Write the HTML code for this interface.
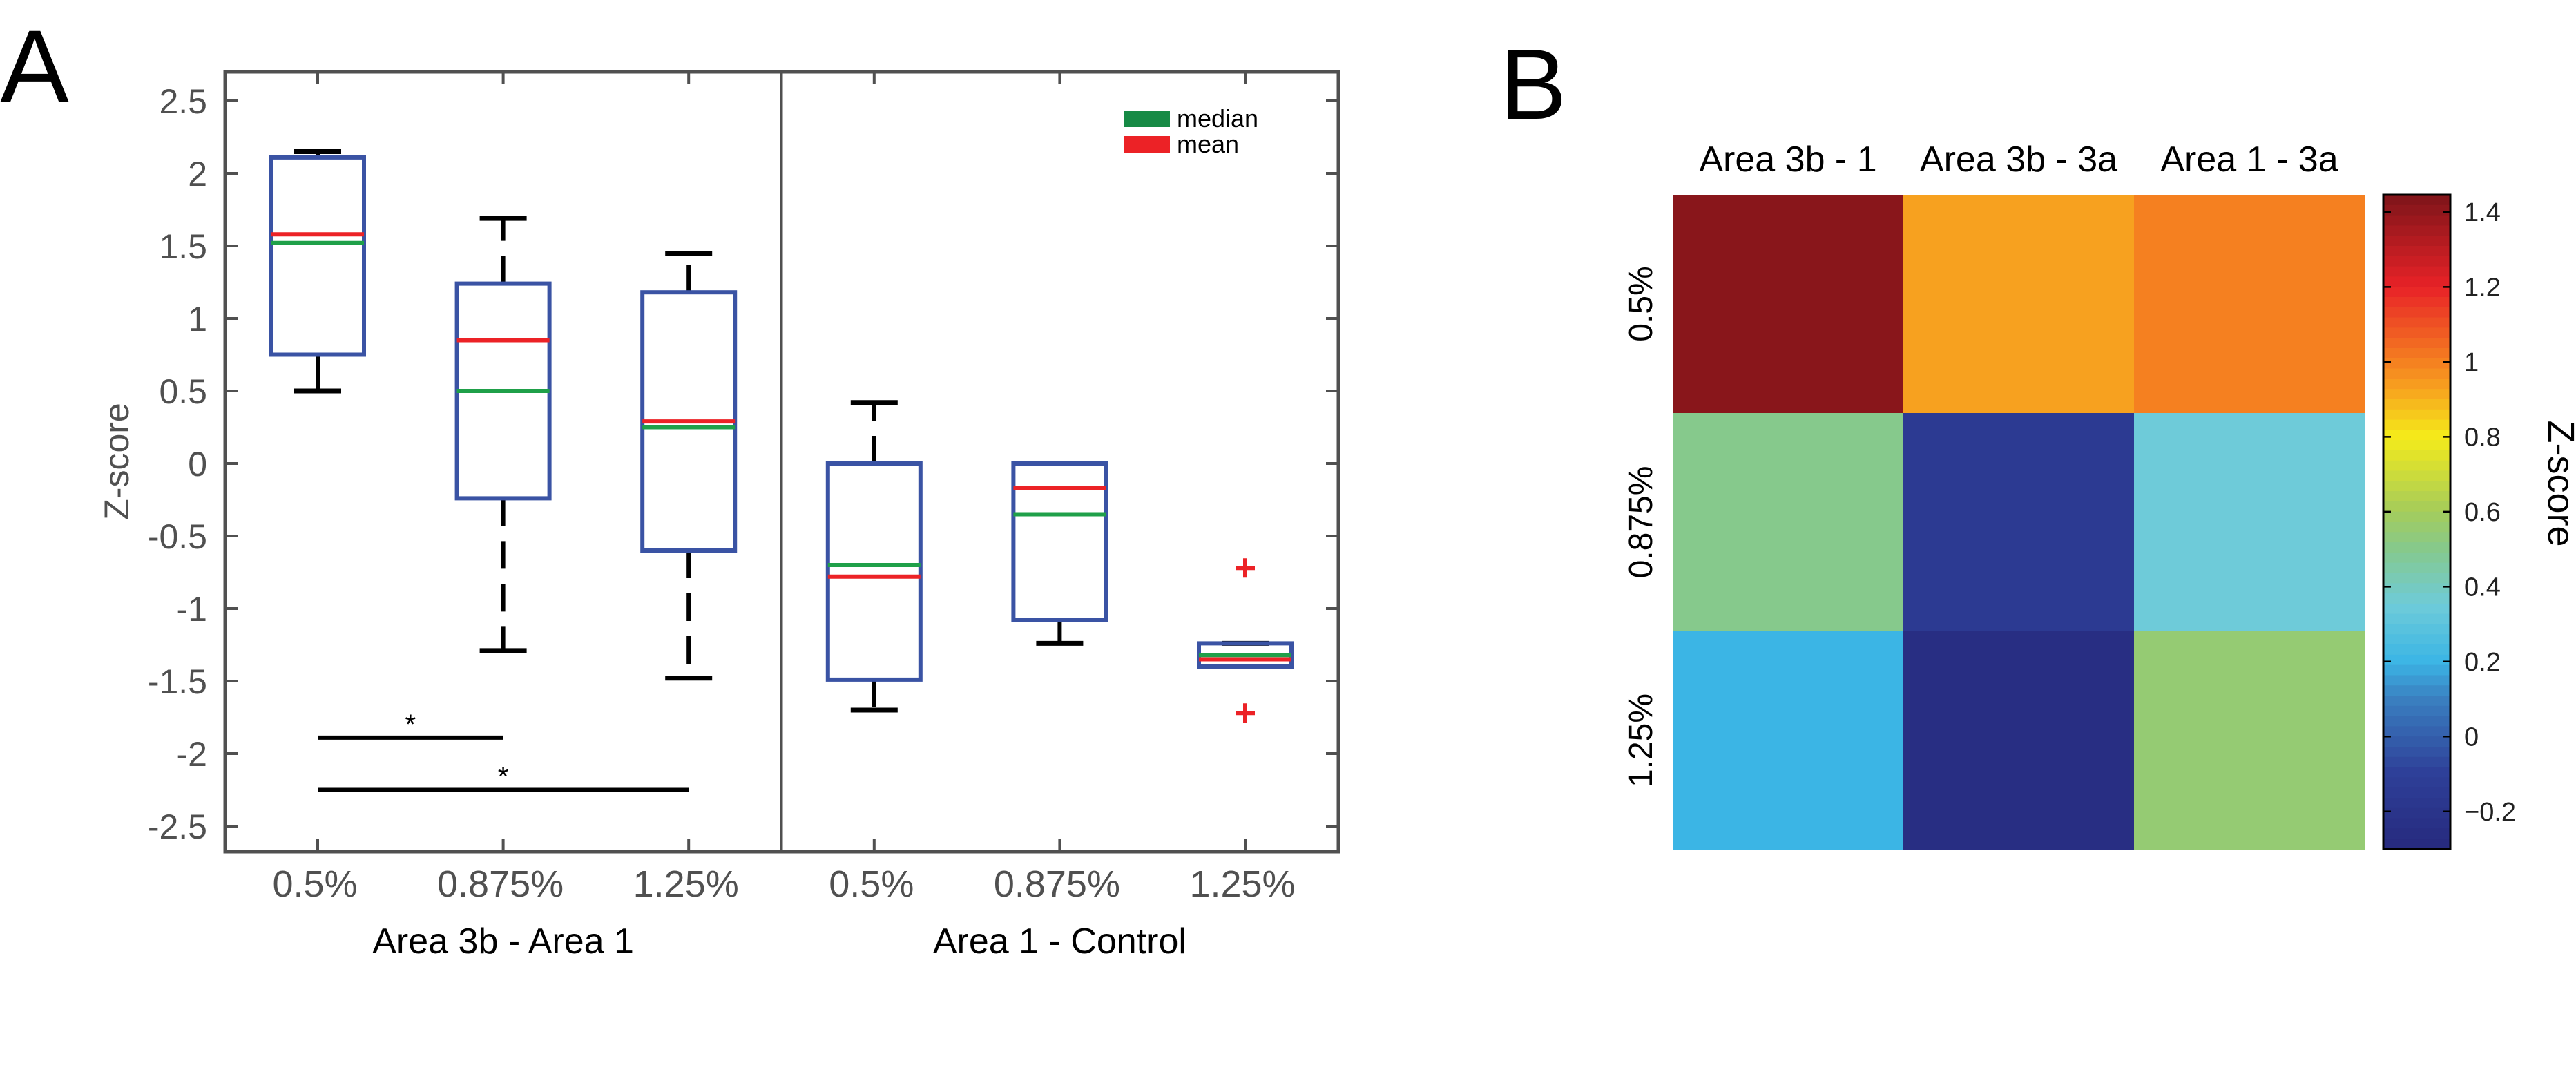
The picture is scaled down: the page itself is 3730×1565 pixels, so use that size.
<!DOCTYPE html>
<html><head><meta charset="utf-8"><style>
html,body{margin:0;padding:0;background:#fff;}
svg{display:block;font-family:"Liberation Sans Narrow","Liberation Sans",sans-serif;}
</style></head><body>
<svg id="fig" width="3730" height="1565" viewBox="0 0 3730 1565" xmlns="http://www.w3.org/2000/svg">
<text x="0" y="148" font-size="150" fill="#000">A</text>
<text x="2172" y="172" font-size="145" fill="#000">B</text>
<g id="boxplot"></g>
<g id="heatmap"></g>
</svg>
<script>
// ---- Box plot data ----
const boxCategories = ["0.5%","0.875%","1.25%","0.5%","0.875%","1.25%"];
const groupLabels = ["Area 3b - Area 1","Area 1 - Control"];
const whiskerHigh = [2.15, 1.69, 1.45, 0.42, 0.0, -1.24];
const q3 = [2.11, 1.24, 1.18, 0.0, 0.0, -1.24];
const q1 = [0.75, -0.24, -0.6, -1.49, -1.08, -1.40];
const whiskerLow = [0.5, -1.29, -1.48, -1.7, -1.24, -1.40];
const medians = [1.52, 0.5, 0.25, -0.7, -0.35, -1.32];
const means = [1.58, 0.85, 0.29, -0.78, -0.17, -1.35];
const outlierCat = [5, 5];
const outlierVal = [-0.72, -1.72];
const yTicks = [2.5, 2, 1.5, 1, 0.5, 0, -0.5, -1, -1.5, -2, -2.5];
const yTickLabels = ["2.5","2","1.5","1","0.5","0","-0.5","-1","-1.5","-2","-2.5"];
const sigFrom = [0, 0];
const sigTo = [1, 2];
const sigVal = [-1.89, -2.25];

// ---- Heatmap data ----
const hmCols = ["Area 3b - 1","Area 3b - 3a","Area 1 - 3a"];
const hmRows = ["0.5%","0.875%","1.25%"];
const hmValues = [[1.42, 0.93, 1.0],[0.5, -0.15, 0.35],[0.2, -0.26, 0.55]];
const cbTicks = [1.4, 1.2, 1, 0.8, 0.6, 0.4, 0.2, 0, -0.2];
const cbTickLabels = ["1.4","1.2","1","0.8","0.6","0.4","0.2","0","\u22120.2"];

const NS = "http://www.w3.org/2000/svg";
function mk(parent, tag, attrs, text){
  const e = document.createElementNS(NS, tag);
  for (const k in attrs) e.setAttribute(k, attrs[k]);
  if (text !== undefined) e.textContent = text;
  parent.appendChild(e);
  return e;
}

// ---------- Box plot ----------
const bp = document.getElementById('boxplot');
const L = 326, R = 1938, T = 104, B = 1233;
const yScale = v => 671 - v * 210;
const xScale = i => 460 + i * 268.6;
const gray = "#505050";

for (let i = 0; i < yTicks.length; i++) {
  const y = yScale(yTicks[i]);
  let t = mk(bp, 'line', {x1:L, x2:L+18, y1:y, y2:y, stroke:gray, 'stroke-width':4});
  
  
  t = mk(bp, 'line', {x1:R-18, x2:R, y1:y, y2:y, stroke:gray, 'stroke-width':4});
  
  
  const lb = mk(bp, 'text', {x:300, y:y+18, 'font-size':50, fill:gray, 'text-anchor':'end'}, yTickLabels[i]);
  
  
}
for (let i = 0; i < boxCategories.length; i++) {
  const x = xScale(i);
  let t = mk(bp, 'line', {x1:x, x2:x, y1:B, y2:B-18, stroke:gray, 'stroke-width':4});
  
  
  t = mk(bp, 'line', {x1:x, x2:x, y1:T, y2:T+18, stroke:gray, 'stroke-width':4});
  
  
  const lb = mk(bp, 'text', {x:x-4, y:1298, 'font-size':54, fill:gray, 'text-anchor':'middle'}, boxCategories[i]);
  
  
}
const frame = mk(bp, 'rect', {x:L, y:T, width:R-L, height:B-T, fill:'none', stroke:gray, 'stroke-width':5});


const div = mk(bp, 'line', {x1:(xScale(2)+xScale(3))/2, x2:(xScale(2)+xScale(3))/2, y1:T, y2:B, stroke:gray, 'stroke-width':4});



const hw = 67, cap = 34;
for (let i = 0; i < boxCategories.length; i++) {
  const x = xScale(i);
  const g = mk(bp, 'g', {});
  
  
  const dash = (i === 1 || i === 2 || i === 3) ? '40 22' : 'none';
  if (whiskerHigh[i] > q3[i]) {
    mk(g, 'line', {x1:x, x2:x, y1:yScale(q3[i]), y2:yScale(whiskerHigh[i]), stroke:'#000', 'stroke-width':6, 'stroke-dasharray':dash});
  }
  if (whiskerLow[i] < q1[i]) {
    mk(g, 'line', {x1:x, x2:x, y1:yScale(q1[i]), y2:yScale(whiskerLow[i]), stroke:'#000', 'stroke-width':6, 'stroke-dasharray':dash});
  }
  if (whiskerHigh[i] !== whiskerLow[i]) {
    mk(g, 'line', {x1:x-cap, x2:x+cap, y1:yScale(whiskerHigh[i]), y2:yScale(whiskerHigh[i]), stroke:'#000', 'stroke-width':7});
    mk(g, 'line', {x1:x-cap, x2:x+cap, y1:yScale(whiskerLow[i]), y2:yScale(whiskerLow[i]), stroke:'#000', 'stroke-width':7});
  }
  mk(g, 'rect', {x:x-hw, y:yScale(q3[i]), width:2*hw, height:yScale(q1[i])-yScale(q3[i]), fill:'none', stroke:'#3a53a4', 'stroke-width':6});
  mk(g, 'line', {x1:x-hw, x2:x+hw, y1:yScale(medians[i]), y2:yScale(medians[i]), stroke:'#1fa049', 'stroke-width':6});
  mk(g, 'line', {x1:x-hw, x2:x+hw, y1:yScale(means[i]), y2:yScale(means[i]), stroke:'#ec2226', 'stroke-width':6});
}
for (let k = 0; k < outlierVal.length; k++) {
  const x = xScale(outlierCat[k]), y = yScale(outlierVal[k]);
  const o = mk(bp, 'path', {d:`M${x-14},${y}H${x+14}M${x},${y-14}V${y+14}`, stroke:'#ec2226', 'stroke-width':6, fill:'none'});
  
  
}
for (let k = 0; k < sigVal.length; k++) {
  const x1 = xScale(sigFrom[k]), x2 = xScale(sigTo[k]), y = yScale(sigVal[k]);
  const s = mk(bp, 'line', {x1:x1, x2:x2, y1:y, y2:y, stroke:'#000', 'stroke-width':6});
  
  
  const a = mk(bp, 'text', {x:(x1+x2)/2, y:y-6, 'font-size':40, fill:'#000', 'text-anchor':'middle'}, '*');
  
  
}
// legend
let lg = mk(bp, 'rect', {x:1627, y:160, width:67, height:24, fill:'#168a45'});


lg = mk(bp, 'text', {x:1704, y:184, 'font-size':36, fill:'#000'}, 'median');


lg = mk(bp, 'rect', {x:1627, y:197, width:67, height:24, fill:'#ec2226'});


lg = mk(bp, 'text', {x:1704, y:221, 'font-size':36, fill:'#000'}, 'mean');


// axis titles
let yt = mk(bp, 'text', {x:0, y:0, 'font-size':50, fill:gray, 'text-anchor':'middle', transform:'translate(186,668) rotate(-90)'}, 'Z-score');


for (let g = 0; g < groupLabels.length; g++) {
  const cx = (xScale(g*3) + xScale(g*3+2)) / 2;
  const gl = mk(bp, 'text', {x:cx, y:1380, 'font-size':52, fill:'#000', 'text-anchor':'middle'}, groupLabels[g]);
  
  
}

// ---------- Heatmap ----------
const hm = document.getElementById('heatmap');
const HL = 2422, HR = 3424, HT = 282, HB = 1230;
const cw = (HR-HL)/hmCols.length, rh = (HB-HT)/hmRows.length;
const stopsV = [-0.3, -0.1, 0.1, 0.2, 0.35, 0.5, 0.6, 0.8, 0.93, 1.0, 1.2, 1.45];
const stopsC = ["#262a7e","#2e3f98","#3a7fc0","#3bb5e5","#6ecbd9","#86c98c","#a4cc5b","#f5eb1a","#f7a11f","#f58020","#e82227","#7c1419"];
function hex(c){return [1,3,5].map(i=>parseInt(c.substr(i,2),16));}
function cmap(v){
  if (v <= stopsV[0]) return stopsC[0];
  for (let i = 1; i < stopsV.length; i++) {
    if (v <= stopsV[i]) {
      const t = (v - stopsV[i-1]) / (stopsV[i] - stopsV[i-1]);
      const a = hex(stopsC[i-1]), b = hex(stopsC[i]);
      return 'rgb(' + a.map((x,j)=>Math.round(x+(b[j]-x)*t)).join(',') + ')';
    }
  }
  return stopsC[stopsC.length-1];
}
for (let r = 0; r < hmRows.length; r++) {
  for (let c = 0; c < hmCols.length; c++) {
    const cell = mk(hm, 'rect', {x:HL+c*cw, y:HT+r*rh, width:cw+0.5, height:rh+0.5, fill:cmap(hmValues[r][c])});
    
    
  }
}
for (let c = 0; c < hmCols.length; c++) {
  const t = mk(hm, 'text', {x:HL+(c+0.5)*cw, y:248, 'font-size':52, fill:'#000', 'text-anchor':'middle'}, hmCols[c]);
  
  
}
for (let r = 0; r < hmRows.length; r++) {
  const cy = HT + (r+0.5)*rh;
  const t = mk(hm, 'text', {x:0, y:0, 'font-size':48, fill:'#000', 'text-anchor':'middle', transform:`translate(2392,${cy}) rotate(-90)`}, hmRows[r]);
  
  
}
// colorbar
const CL = 3451, CR = 3548, CT = 282, CB = 1229;
const cbMin = -0.3, cbMax = 1.446;
const cbY = v => CT + (cbMax - v) / (cbMax - cbMin) * (CB - CT);
const nb = 64;
for (let k = 0; k < nb; k++) {
  const v1 = cbMax - k*(cbMax-cbMin)/nb;
  const band = mk(hm, 'rect', {x:CL, y:cbY(v1), width:CR-CL, height:(CB-CT)/nb+0.6, fill:cmap(v1 - (cbMax-cbMin)/nb/2)});
  
  
}
const cbf = mk(hm, 'rect', {x:CL, y:CT, width:CR-CL, height:CB-CT, fill:'none', stroke:'#000', 'stroke-width':3});


for (let k = 0; k < cbTicks.length; k++) {
  const y = cbY(cbTicks[k]);
  let t = mk(hm, 'path', {d:`M${CL},${y}h11M${CR-11},${y}h11`, stroke:'#000', 'stroke-width':2.5});
  
  
  t = mk(hm, 'text', {x:3568, y:y+13, 'font-size':38, fill:'#222'}, cbTickLabels[k]);
  
  
}
const cbt = mk(hm, 'text', {x:0, y:0, 'font-size':54, fill:'#000', 'text-anchor':'middle', transform:'translate(3690,700) rotate(90)'}, 'Z-score');


</script>
</body></html>
